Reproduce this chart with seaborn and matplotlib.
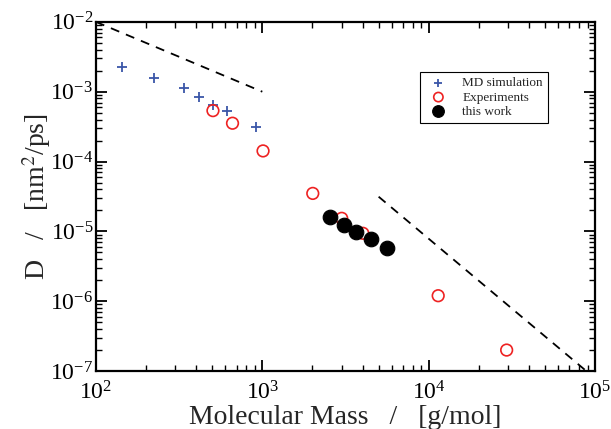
import numpy as np
import pandas as pd
import matplotlib
matplotlib.use("Agg")
import matplotlib.pyplot as plt
import seaborn as sns

# Diffusion coefficient vs. molecular mass
md_mass = [143, 224, 338, 419, 505, 615, 920]
md_D = [2.29e-3, 1.56e-3, 1.12e-3, 8.5e-4, 6.47e-4, 5.3e-4, 3.16e-4]

exp_mass = [505, 662, 1010, 2010, 3000, 4020, 11400, 29400]
exp_D = [5.36e-4, 3.54e-4, 1.42e-4, 3.5e-5, 1.54e-5, 9.4e-6, 1.2e-6, 2.0e-7]

work_mass = [2543, 3090, 3665, 4475, 5640]
work_D = [1.63e-5, 1.24e-5, 9.9e-6, 7.8e-6, 5.73e-6]

# Guide lines: D ~ M^-1 (short chains) and D ~ M^-2 (reptation)
guide1_mass = [100, 1000]
guide1_D = [1e-2, 1e-3]
guide2_mass = [5000, 1e5]
guide2_D = [3.14e-5, 7.85e-8]

sns.set_style("ticks")
plt.rcParams["font.family"] = ["Liberation Serif", "DejaVu Serif"]
plt.rcParams["mathtext.fontset"] = "stix"

fig = plt.figure(figsize=(6.11, 4.29), dpi=100)
ax = fig.add_axes([0.157, 0.135, 0.817, 0.814])

ax.set_xscale("log")
ax.set_yscale("log")

sns.lineplot(x=guide1_mass, y=guide1_D, ax=ax, color="black", lw=1.3,
             linestyle=(0, (5, 4)), legend=False)
sns.lineplot(x=guide2_mass, y=guide2_D, ax=ax, color="black", lw=1.3,
             linestyle=(0, (5, 4)), legend=False)

sns.scatterplot(x=md_mass, y=md_D, ax=ax, marker="+", s=60, color="#3a56a8",
                linewidth=1.3, label="MD simulation", zorder=3)
sns.scatterplot(x=exp_mass, y=exp_D, ax=ax, marker="o", s=70,
                facecolor="none", edgecolor="#ee2222", linewidth=1.2,
                label="Experiments", zorder=3)
sns.scatterplot(x=work_mass, y=work_D, ax=ax, marker="o", s=110,
                color="black", edgecolor="black", label="this work", zorder=4)

ax.set_xlim(1e2, 1e5)
ax.set_ylim(1e-7, 1e-2)

for side in ["left", "right", "top", "bottom"]:
    ax.spines[side].set_visible(True)
    ax.spines[side].set_linewidth(1.6)
    ax.spines[side].set_color("black")

ax.tick_params(which="both", direction="in", top=True, right=True,
               colors="black", labelsize=17)
ax.tick_params(axis="x", pad=7)
ax.tick_params(axis="y", pad=2)
ax.tick_params(which="major", length=8, width=1.3)
ax.tick_params(which="minor", length=4, width=1.0)
ax.xaxis.set_major_locator(matplotlib.ticker.LogLocator(base=10, numticks=10))
ax.xaxis.set_minor_locator(matplotlib.ticker.LogLocator(base=10, subs=np.arange(2, 10), numticks=20))
ax.yaxis.set_minor_locator(matplotlib.ticker.LogLocator(base=10, subs=np.arange(2, 10), numticks=20))
ax.xaxis.set_minor_formatter(matplotlib.ticker.NullFormatter())
ax.yaxis.set_minor_formatter(matplotlib.ticker.NullFormatter())

ax.set_xlabel("Molecular Mass   /   [g/mol]", fontsize=20, labelpad=1)
ax.set_ylabel("D   /   [nm$^2$/ps]", fontsize=20)
ax.yaxis.set_label_coords(-0.085, 0.5)

leg = ax.legend(loc="upper left", bbox_to_anchor=(0.649, 0.857), fontsize=9.5,
                frameon=True, fancybox=False, framealpha=1, edgecolor="black",
                borderpad=0.4, labelspacing=0.15, handletextpad=0.8,
                markerscale=0.8, borderaxespad=0)
leg.get_frame().set_linewidth(0.8)

fig.savefig("out.png", dpi=100)
